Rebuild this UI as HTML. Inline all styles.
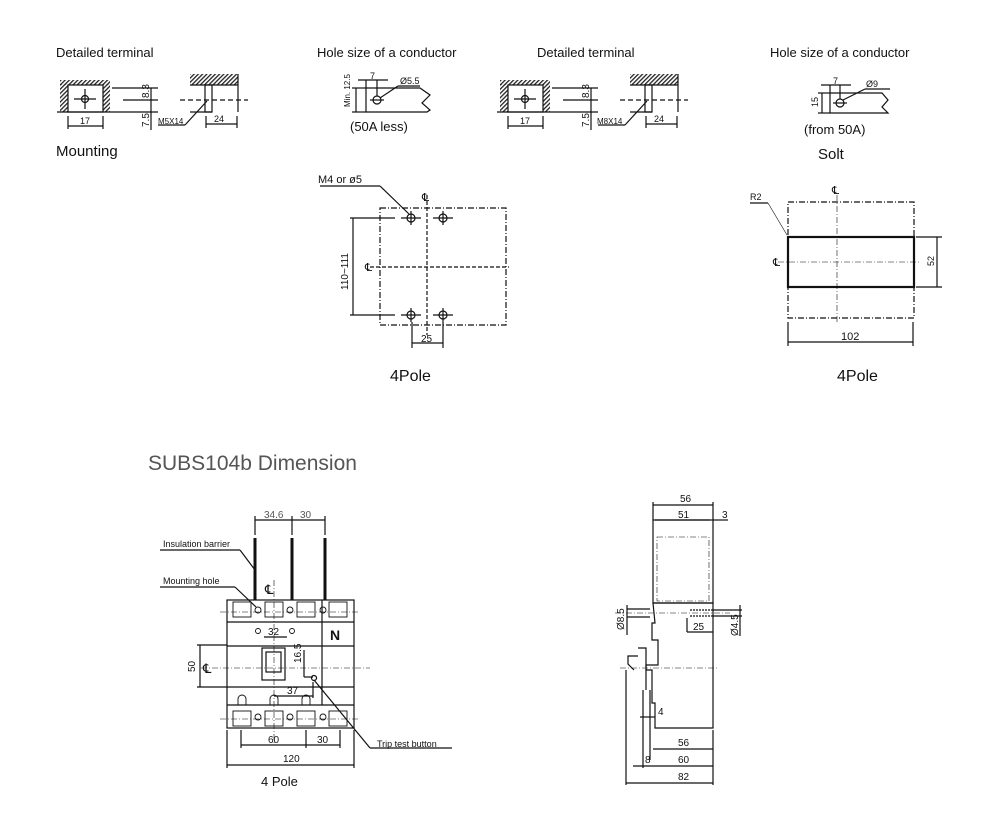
<!DOCTYPE html>
<html><head><meta charset="utf-8"><style>
html,body{margin:0;padding:0;background:#fff}
svg{display:block}
text{font-family:"Liberation Sans",sans-serif;fill:#111}
</style></head><body>
<svg width="1000" height="818" viewBox="0 0 1000 818" xmlns="http://www.w3.org/2000/svg">
<defs>
<pattern id="h" width="3" height="3" patternUnits="userSpaceOnUse" patternTransform="rotate(45)"><rect width="1.3" height="3" fill="#222"/></pattern>
</defs>
<g stroke="#111" fill="none" stroke-width="1.2">
<g id="t1">
<rect x="60" y="84" width="8" height="28" fill="url(#h)" stroke="none"/>
<rect x="60" y="80" width="50" height="5" fill="url(#h)" stroke="none"/>
<rect x="103" y="84" width="7" height="28" fill="url(#h)" stroke="none"/>
<rect x="68" y="85" width="35" height="27"/>
<line x1="57" y1="112" x2="112" y2="112"/>
<circle cx="85" cy="99" r="3.5"/>
<line x1="74" y1="99" x2="96" y2="99"/><line x1="85" y1="89" x2="85" y2="109"/>
<line x1="68" y1="116" x2="68" y2="129"/><line x1="103" y1="116" x2="103" y2="129"/><line x1="68" y1="126" x2="103" y2="126"/>
<line x1="112" y1="88" x2="158" y2="88"/><line x1="123" y1="100" x2="158" y2="100"/><line x1="112" y1="112" x2="158" y2="112"/>
<line x1="151" y1="88" x2="151" y2="130"/>
<rect x="190" y="74" width="48" height="11" fill="url(#h)" stroke="none"/>
<line x1="190" y1="85" x2="238" y2="85"/><line x1="238" y1="74" x2="238" y2="112"/>
<rect x="205" y="85" width="7" height="27"/>
<line x1="180" y1="100" x2="248" y2="100" stroke-dasharray="5,3"/>
<line x1="190" y1="112" x2="212" y2="112"/>
<line x1="158" y1="125" x2="185" y2="125"/><line x1="185" y1="125" x2="207" y2="101"/>
<line x1="206" y1="116" x2="206" y2="128"/><line x1="237" y1="116" x2="237" y2="128"/><line x1="206" y1="124" x2="237" y2="124"/>
</g>
<use href="#t1" x="440"/>
<path d="M366 88 H420 L430 95 L422 103 L430 110 L427 112 H366 Z"/>
<circle cx="377" cy="100" r="4"/><line x1="370" y1="100" x2="384" y2="100"/>
<line x1="366" y1="80" x2="366" y2="88"/><line x1="377" y1="80" x2="377" y2="96"/><line x1="358" y1="80" x2="388" y2="80"/>
<line x1="380" y1="98" x2="398" y2="86"/><line x1="398" y1="86" x2="420" y2="86"/>
<line x1="352" y1="88" x2="366" y2="88"/><line x1="352" y1="112" x2="366" y2="112"/><line x1="356" y1="88" x2="356" y2="112"/>
<path d="M830 93 H882 L888 100 L882 107 L888 113 H830 Z"/>
<circle cx="840" cy="103" r="4"/><line x1="833" y1="103" x2="847" y2="103"/>
<line x1="830" y1="85" x2="830" y2="93"/><line x1="840" y1="85" x2="840" y2="99"/><line x1="821" y1="85" x2="851" y2="85"/>
<line x1="843" y1="100" x2="865" y2="89"/><line x1="865" y1="89" x2="890" y2="89"/>
<line x1="818" y1="93" x2="830" y2="93"/><line x1="818" y1="113" x2="830" y2="113"/><line x1="822" y1="93" x2="822" y2="113"/>
<rect x="380" y="208" width="126" height="117" stroke-dasharray="6,2,1,2"/>
<line x1="427" y1="195" x2="427" y2="335" stroke-dasharray="4,2"/>
<line x1="370" y1="267" x2="509" y2="267" stroke-dasharray="4,2"/>
<g id="hl"><circle cx="411" cy="218" r="4"/><line x1="401" y1="218" x2="421" y2="218"/><line x1="411" y1="211" x2="411" y2="225"/></g>
<use href="#hl" x="32"/><use href="#hl" y="97"/><use href="#hl" x="32" y="97"/>
<line x1="350" y1="218" x2="395" y2="218"/><line x1="350" y1="315" x2="395" y2="315"/><line x1="353" y1="218" x2="353" y2="315"/>
<line x1="412" y1="322" x2="412" y2="348"/><line x1="443" y1="322" x2="443" y2="348"/><line x1="412" y1="343" x2="443" y2="343"/>
<line x1="320" y1="186" x2="380" y2="186"/><line x1="380" y1="186" x2="409" y2="214"/>
<rect x="788" y="202" width="126" height="116" stroke-dasharray="6,2,1,2"/>
<rect x="788" y="237" width="126" height="50" stroke-width="2.2"/>
<line x1="837" y1="195" x2="837" y2="322" stroke-width="0.6" stroke-dasharray="6,2,1,2"/>
<line x1="778" y1="262" x2="920" y2="262" stroke-width="0.6" stroke-dasharray="6,2,1,2"/>
<line x1="916" y1="237" x2="942" y2="237"/><line x1="916" y1="287" x2="942" y2="287"/><line x1="937" y1="237" x2="937" y2="287"/>
<line x1="788" y1="322" x2="788" y2="346"/><line x1="913" y1="322" x2="913" y2="346"/><line x1="788" y1="342" x2="913" y2="342"/>
<line x1="750" y1="203" x2="768" y2="203"/><line x1="768" y1="203" x2="787" y2="235" stroke-width="0.6"/>
<rect x="227" y="600" width="127" height="128"/>
<line x1="227" y1="622" x2="354" y2="622"/><line x1="227" y1="646" x2="354" y2="646"/>
<line x1="227" y1="687" x2="354" y2="687"/><line x1="227" y1="705" x2="354" y2="705"/>
<line x1="322" y1="600" x2="322" y2="705"/>
<g stroke-width="0.9">
<rect x="233" y="602" width="18" height="15"/><rect x="265" y="602" width="18" height="15"/><rect x="297" y="602" width="18" height="15"/><rect x="329" y="602" width="18" height="15"/>
<rect x="233" y="711" width="18" height="15"/><rect x="265" y="711" width="18" height="15"/><rect x="297" y="711" width="18" height="15"/><rect x="329" y="711" width="18" height="15"/>
<circle cx="258" cy="610" r="3"/><circle cx="290" cy="610" r="3"/><circle cx="323" cy="610" r="3"/>
<circle cx="258" cy="717" r="3"/><circle cx="290" cy="717" r="3"/><circle cx="323" cy="717" r="3"/>
<circle cx="258" cy="631" r="2.5"/><circle cx="292" cy="631" r="2.5"/>
<path d="M238 705 v-6 a4 4 0 0 1 8 0 v6 M270 705 v-6 a4 4 0 0 1 8 0 v6 M302 705 v-6 a4 4 0 0 1 8 0 v6"/>
</g>
<rect x="262" y="648" width="23" height="32"/><rect x="266" y="652" width="15" height="20"/>
<line x1="201" y1="668" x2="370" y2="668" stroke-width="0.6" stroke-dasharray="6,2,1,2"/>
<line x1="274" y1="580" x2="274" y2="745" stroke-width="0.6" stroke-dasharray="6,2,1,2"/>
<line x1="220" y1="612" x2="360" y2="612" stroke-width="0.6" stroke-dasharray="6,2,1,2"/>
<line x1="220" y1="719" x2="360" y2="719" stroke-width="0.6" stroke-dasharray="6,2,1,2"/>
<line x1="264" y1="637" x2="287" y2="637"/>
<line x1="304" y1="650" x2="304" y2="677"/><line x1="304" y1="677" x2="313" y2="677"/>
<line x1="274" y1="696" x2="313" y2="696"/><line x1="313" y1="682" x2="313" y2="698"/>
<circle cx="314" cy="678" r="2.5"/>
<line x1="314" y1="680" x2="370" y2="748"/><line x1="370" y1="748" x2="452" y2="748"/>
<g stroke-width="3"><line x1="255" y1="538" x2="255" y2="600"/><line x1="292" y1="538" x2="292" y2="600"/><line x1="325" y1="538" x2="325" y2="600"/></g>
<line x1="255" y1="520" x2="325" y2="520"/><line x1="255" y1="516" x2="255" y2="535"/><line x1="292" y1="516" x2="292" y2="535"/><line x1="325" y1="516" x2="325" y2="535"/>
<line x1="160" y1="550" x2="240" y2="550"/><line x1="240" y1="550" x2="255" y2="570"/>
<line x1="160" y1="587" x2="235" y2="587"/><line x1="235" y1="587" x2="256" y2="607"/>
<line x1="197" y1="645" x2="227" y2="645"/><line x1="197" y1="687" x2="227" y2="687"/><line x1="200" y1="645" x2="200" y2="687"/>
<line x1="241" y1="730" x2="241" y2="748"/><line x1="306" y1="730" x2="306" y2="748"/><line x1="340" y1="730" x2="340" y2="748"/><line x1="241" y1="745" x2="340" y2="745"/>
<line x1="227" y1="730" x2="227" y2="768"/><line x1="354" y1="730" x2="354" y2="768"/><line x1="227" y1="765" x2="354" y2="765"/>
<rect x="653" y="520" width="60" height="83"/>
<rect x="657" y="537" width="52" height="64" stroke-width="0.6" stroke-dasharray="6,2,1,2"/>
<path d="M653 603 H713 V728 H655 V703 H652 V670 H646 V665 H658 V640 H652 V623 H655 Z"/>
<path d="M638 648 H646 V690"/><path d="M634 670 L628 664 V656 H638"/>
<line x1="643" y1="690" x2="643" y2="768"/><line x1="650" y1="690" x2="650" y2="760"/>
<line x1="615" y1="613" x2="730" y2="613" stroke-width="0.6" stroke-dasharray="6,2,1,2"/>
<line x1="690" y1="610" x2="713" y2="610" stroke-dasharray="2,1"/><line x1="690" y1="616" x2="713" y2="616" stroke-dasharray="2,1"/>
<line x1="620" y1="668" x2="718" y2="668" stroke-width="0.6" stroke-dasharray="6,2,1,2"/>
<line x1="653" y1="502" x2="653" y2="520"/><line x1="713" y1="502" x2="713" y2="520"/><line x1="653" y1="505" x2="713" y2="505"/>
<line x1="655" y1="520" x2="710" y2="520"/><line x1="713" y1="520" x2="728" y2="520"/>
<line x1="627" y1="605" x2="627" y2="635"/><line x1="627" y1="609" x2="650" y2="609"/><line x1="627" y1="617" x2="650" y2="617"/>
<line x1="740" y1="605" x2="740" y2="636"/><line x1="713" y1="610" x2="742" y2="610"/><line x1="713" y1="616" x2="742" y2="616"/>
<line x1="687" y1="618" x2="687" y2="632"/><line x1="687" y1="632" x2="713" y2="632"/>
<line x1="640" y1="717" x2="655" y2="717"/>
<line x1="653" y1="749" x2="713" y2="749"/><line x1="713" y1="730" x2="713" y2="785"/>
<line x1="633" y1="766" x2="713" y2="766"/><line x1="626" y1="670" x2="626" y2="785"/><line x1="626" y1="783" x2="713" y2="783"/>
</g>
<g font-size="13">
<text x="56" y="57">Detailed terminal</text>
<text x="317" y="57">Hole size of a conductor</text>
<text x="537" y="57">Detailed terminal</text>
<text x="770" y="57">Hole size of a conductor</text>
</g>
<text x="56" y="156" font-size="15">Mounting</text>
<text x="818" y="159" font-size="15">Solt</text>
<g font-size="9">
<text x="80" y="124">17</text><text x="520" y="124">17</text>
<text x="214" y="122">24</text><text x="654" y="122">24</text>
<text x="158" y="124" font-size="8">M5X14</text><text x="597" y="124" font-size="8">M8X14</text>
<text x="370" y="79">7</text><text x="400" y="84">Ø5.5</text>
<text x="833" y="84">7</text><text x="866" y="87">Ø9</text>
<text transform="translate(149,98) rotate(-90)" font-size="10">8.3</text><text transform="translate(589,98) rotate(-90)" font-size="10">8.3</text>
<text transform="translate(149,127) rotate(-90)" font-size="10">7.5</text><text transform="translate(589,127) rotate(-90)" font-size="10">7.5</text>
<text transform="translate(350,107) rotate(-90)" font-size="8">Min. 12.5</text>
<text transform="translate(818,107) rotate(-90)">15</text>
</g>
<text x="350" y="131" font-size="13">(50A less)</text>
<text x="804" y="134" font-size="13">(from 50A)</text>
<text x="318" y="183" font-size="11">M4 or ø5</text>
<text x="422" y="201" font-size="11">℄</text><text x="365" y="271" font-size="11">℄</text>
<text transform="translate(348,290) rotate(-90)" font-size="10">110~111</text>
<text x="421" y="342" font-size="10">25</text>
<text x="390" y="381" font-size="16">4Pole</text>
<text x="750" y="200" font-size="9">R2</text>
<text x="832" y="194" font-size="11">℄</text><text x="773" y="266" font-size="11">℄</text>
<text transform="translate(934,266) rotate(-90)" font-size="9">52</text>
<text x="841" y="340" font-size="11">102</text>
<text x="837" y="381" font-size="16">4Pole</text>
<text x="148" y="470" font-size="21" style="fill:#555">SUBS104b Dimension</text>
<g font-size="10">
<text x="163" y="547" font-size="9">Insulation barrier</text>
<text x="163" y="584" font-size="9">Mounting hole</text>
<text x="264" y="518" style="fill:#555">34.6</text><text x="300" y="518" style="fill:#555">30</text>
<text x="265" y="594" font-size="13">℄</text>
<text x="268" y="635">32</text>
<text x="330" y="640" font-size="14" font-weight="bold">N</text>
<text transform="translate(301,663) rotate(-90)">16.5</text>
<text x="287" y="694">37</text>
<text x="203" y="673" font-size="13">℄</text>
<text transform="translate(195,672) rotate(-90)">50</text>
<text x="268" y="743">60</text><text x="317" y="743">30</text>
<text x="283" y="762">120</text>
<text x="377" y="747" font-size="9">Trip test button</text>
<text x="680" y="502">56</text><text x="678" y="518">51</text><text x="722" y="518">3</text>
<text transform="translate(624,630) rotate(-90)">Ø8.5</text>
<text transform="translate(738,636) rotate(-90)">Ø4.5</text>
<text x="693" y="630">25</text>
<text x="658" y="715">4</text>
<text x="678" y="746">56</text><text x="678" y="763">60</text><text x="645" y="763">8</text>
<text x="678" y="780">82</text>
</g>
<text x="261" y="786" font-size="13">4 Pole</text>
</svg>
</body></html>
